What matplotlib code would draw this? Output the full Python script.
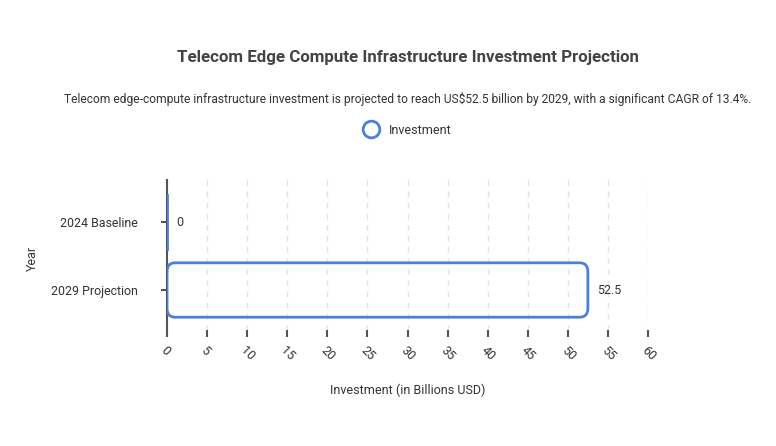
import matplotlib.pyplot as plt
from matplotlib.patches import FancyBboxPatch
from matplotlib.lines import Line2D

plt.rcParams['font.family'] = ['Roboto', 'DejaVu Sans']

categories = ["2024 Baseline", "2029 Projection"]
investment = [0, 52.5]
value_labels = ["0", "52.5"]
xticks = list(range(0, 65, 5))

blue = "#4a7fdc"
txt = "#333333"

fig = plt.figure(figsize=(7.76, 4.46), dpi=100)
ax = fig.add_axes([167/776, 1-330/446, 481/776, 150/446])

bh = 0.8
for i, (c, v) in enumerate(zip(categories, investment)):
    if v > 0:
        p = FancyBboxPatch((0, i - bh/2), v, bh,
                           boxstyle="round,pad=0,rounding_size=1.0",
                           mutation_aspect=0.13,
                           fc="none", ec=blue, lw=2, zorder=3)
        ax.add_patch(p)
    else:
        ax.plot([0, 0], [i - bh/2, i + bh/2], color=blue, lw=2, zorder=3)
    ax.annotate(value_labels[i], (v, i), xytext=(6.5, 0), textcoords="offset points",
                va="center", ha="left", fontsize=9, color=txt)

ax.set_xlim(0, 60)
ax.set_ylim(1.588, -0.618)
ax.set_yticks(range(len(categories)))
ax.set_yticklabels(categories, fontsize=8.9, color=txt)
ax.set_xticks(xticks)
ax.set_xticklabels([str(t) for t in xticks], rotation=-45, ha="left", va="top",
                   rotation_mode="anchor", fontsize=9, color=txt)
ax.tick_params(axis="x", length=5, width=1.5, color="#555555", pad=5)
ax.tick_params(axis="y", length=4, width=1.5, color="#555555", pad=17)
for s in ["top", "right", "bottom"]:
    ax.spines[s].set_visible(False)
ax.spines["left"].set_color("#555555")
ax.spines["left"].set_linewidth(1.5)
ax.grid(axis="x", color="#e3e3e3", linestyle=(0, (4, 4)), lw=1)
ax.set_axisbelow(True)

ax.set_xlabel("Investment (in Billions USD)", fontsize=9, color=txt, labelpad=15)
fig.text(32/776, 1-258/446, "Year", rotation=90, ha="center", va="center",
         fontsize=9, color=txt)

fig.text(408/776, 1-58/446, "Telecom Edge Compute Infrastructure Investment Projection",
         ha="center", va="center", fontsize=12.2, fontweight="bold", color="#444444")
fig.text(408/776, 1-99/446,
         "Telecom edge-compute infrastructure investment is projected to reach US$52.5 billion by 2029, with a significant CAGR of 13.4%.",
         ha="center", va="center", fontsize=8.65, color=txt)

handle = Line2D([], [], marker="o", ls="none", markersize=12, mfc="none",
                mec=blue, mew=2)
fig.legend([handle], ["Investment"], loc="center", bbox_to_anchor=(405/776, 1-130/446),
           frameon=False, fontsize=9, handletextpad=0.4, labelcolor=txt)

fig.savefig("out.png", dpi=100)
